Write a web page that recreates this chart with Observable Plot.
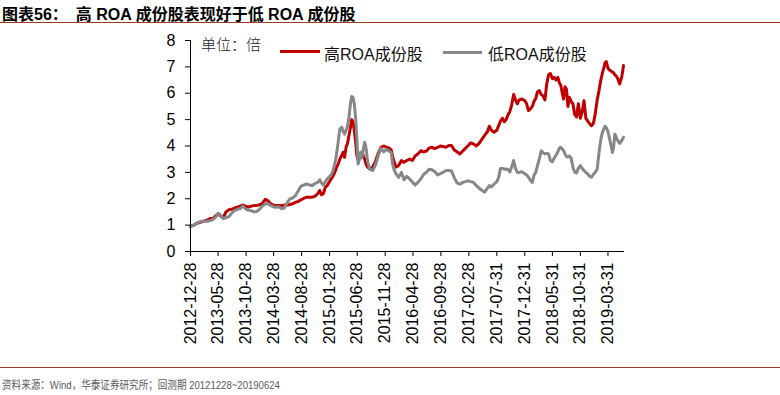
<!DOCTYPE html>
<html>
<head>
<meta charset="utf-8">
<script src="https://cdn.jsdelivr.net/npm/d3@7"></script>
<script src="https://cdn.jsdelivr.net/npm/@observablehq/plot@0.6"></script>
<style>
  html, body { margin: 0; padding: 0; background: #fff; }
  #wrap { position: relative; width: 780px; height: 395px; overflow: hidden; font-family: "Liberation Sans", Arial, "Noto Sans CJK SC", sans-serif; }
  #chart { position: absolute; left: 0; top: 0; }
  .title { position: absolute; left: 2px; top: 1px; font-size: 16px; font-weight: bold; color: #000; font-family: "Liberation Sans", Arial, "Noto Sans CJK SC", sans-serif; white-space: nowrap; }
  .hr { position: absolute; left: 0; width: 780px; height: 0; border-top: 1.5px solid #A0382C; }
  .foot { position: absolute; left: 2px; top: 376px; font-size: 11px; color: #595959; white-space: nowrap; font-family: "Liberation Sans Narrow", "Liberation Sans", "Noto Sans CJK SC", sans-serif; transform: scaleX(0.87); transform-origin: 0 0; }
  .unit { position: absolute; left: 201px; top: 33px; font-size: 15px; color: #222; font-family: "Noto Sans CJK SC", sans-serif; font-weight: 300; white-space: nowrap; }
  .leg { position: absolute; top: 41px; font-size: 16px; color: #111; white-space: nowrap; font-family: "Liberation Sans", Arial, "Noto Sans CJK SC", sans-serif; }
  .legline { position: absolute; height: 0; border-top: 3px solid; }
</style>
</head>
<body>
<div id="wrap">
  <div id="chart"></div>
  <div class="title">图表56：<span style="display:inline-block;width:8px"></span>高 ROA 成份股表现好于低 ROA 成份股</div>
  <div class="hr" style="top:21.5px"></div>
  <div class="unit">单位：倍</div>
  <div class="legline" style="left:280px;width:40px;top:49.5px;border-color:#C00000"></div>
  <div class="leg" style="left:324px">高ROA成份股</div>
  <div class="legline" style="left:443px;width:39px;top:50.5px;border-color:#878787"></div>
  <div class="leg" style="left:488px">低ROA成份股</div>
  <div class="hr" style="top:367px"></div>
  <div class="foot">资料来源：Wind，华泰证券研究所；回测期 20121228~20190624</div>
</div>
<script>
const dates = [
"2012-12-28","2013-01-15","2013-02-01","2013-02-15","2013-03-01","2013-03-15","2013-04-01","2013-04-15","2013-05-01","2013-05-15",
"2013-05-28","2013-06-10","2013-06-25","2013-07-10","2013-07-25","2013-08-10","2013-08-25","2013-09-10","2013-09-25","2013-10-10",
"2013-10-25","2013-11-10","2013-11-25","2013-12-10","2013-12-25","2014-01-10","2014-01-25","2014-02-10","2014-02-25","2014-03-10",
"2014-03-25","2014-04-10","2014-04-25","2014-05-10","2014-05-25","2014-06-10","2014-06-25","2014-07-10","2014-07-25","2014-08-10",
"2014-08-25","2014-09-10","2014-09-25","2014-10-10","2014-10-25","2014-11-10","2014-11-25","2014-12-05","2014-12-15","2014-12-25",
"2015-01-05","2015-01-15","2015-01-25","2015-02-05","2015-02-15","2015-02-25","2015-03-05","2015-03-15","2015-03-25","2015-04-05",
"2015-04-12","2015-04-20","2015-04-28","2015-05-06","2015-05-14","2015-05-22","2015-05-29","2015-06-05","2015-06-12","2015-06-19",
"2015-06-26","2015-07-03","2015-07-10","2015-07-17","2015-07-24","2015-07-31","2015-08-08","2015-08-16","2015-08-24","2015-09-05",
"2015-09-20","2015-10-05","2015-10-20","2015-11-05","2015-11-20","2015-12-05","2015-12-20","2015-12-31","2016-01-08","2016-01-16",
"2016-01-26","2016-02-10","2016-02-25","2016-03-10","2016-03-25","2016-04-10","2016-04-25","2016-05-10","2016-05-25","2016-06-10",
"2016-06-25","2016-07-10","2016-07-25","2016-08-10","2016-08-25","2016-09-10","2016-09-25","2016-10-10","2016-10-25","2016-11-10",
"2016-11-25","2016-12-10","2016-12-25","2017-01-10","2017-01-25","2017-02-10","2017-02-25","2017-03-10","2017-03-25","2017-04-10",
"2017-04-25","2017-05-10","2017-05-25","2017-06-10","2017-06-20","2017-07-01","2017-07-15","2017-07-31","2017-08-10","2017-08-20",
"2017-08-31","2017-09-10","2017-09-20","2017-10-01","2017-10-10","2017-10-20","2017-10-31","2017-11-10","2017-11-20","2017-11-30",
"2017-12-15","2017-12-31","2018-01-10","2018-01-20","2018-01-30","2018-02-10","2018-02-20","2018-03-01","2018-03-10","2018-03-20",
"2018-03-31","2018-04-10","2018-04-20","2018-04-30","2018-05-10","2018-05-20","2018-05-31","2018-06-10","2018-06-20","2018-06-30",
"2018-07-08","2018-07-16","2018-07-24","2018-07-31","2018-08-08","2018-08-16","2018-08-24","2018-08-31","2018-09-10","2018-09-20",
"2018-09-30","2018-10-10","2018-10-20","2018-10-31","2018-11-10","2018-11-20","2018-11-30","2018-12-10","2018-12-20","2018-12-31",
"2019-01-10","2019-01-20","2019-01-31","2019-02-10","2019-02-20","2019-02-28","2019-03-08","2019-03-15","2019-03-22","2019-03-31",
"2019-04-08","2019-04-16","2019-04-24","2019-04-30","2019-05-08","2019-05-16","2019-05-24","2019-06-03","2019-06-14","2019-06-24"
];
const highROA = [
0.95,1.00,1.07,1.10,1.13,1.16,1.20,1.25,1.25,1.35,
1.43,1.35,1.28,1.50,1.58,1.60,1.65,1.68,1.72,1.76,
1.72,1.68,1.72,1.74,1.74,1.78,1.82,1.98,1.92,1.82,
1.76,1.74,1.74,1.74,1.76,1.76,1.78,1.81,1.86,1.90,
1.96,2.02,2.06,2.06,2.06,2.10,2.20,2.31,2.15,2.20,
2.44,2.50,2.62,2.75,2.85,3.00,3.15,3.30,3.50,3.65,
3.76,3.57,3.95,4.10,4.40,4.70,5.00,4.92,4.60,4.20,
3.65,3.50,3.57,3.72,3.76,3.64,3.50,3.30,3.20,3.13,
3.20,3.40,3.70,3.95,4.00,3.96,3.92,3.85,3.60,3.40,
3.20,3.26,3.45,3.38,3.45,3.50,3.45,3.62,3.70,3.82,
3.78,3.80,3.92,3.95,3.90,3.95,4.00,3.98,3.95,4.02,
4.02,3.85,3.78,3.70,3.80,3.92,4.02,4.12,4.08,4.00,
4.10,4.25,4.40,4.55,4.75,4.60,4.52,4.60,4.77,4.95,
5.05,4.92,5.00,5.20,5.30,5.55,5.95,5.75,5.60,5.75,
5.78,5.72,5.60,5.34,5.40,5.50,5.70,5.80,6.05,6.10,
5.95,5.90,5.75,6.35,6.70,6.75,6.55,6.60,6.50,6.60,
6.40,6.30,6.00,5.78,6.25,6.15,5.50,5.85,5.70,5.60,
5.20,5.10,5.60,5.05,5.30,5.72,5.05,4.95,4.85,4.77,
4.85,5.20,5.75,6.10,6.50,6.75,6.95,7.15,7.20,6.95,
6.88,6.85,6.80,6.78,6.70,6.65,6.55,6.35,6.60,7.05
];
const lowROA = [
0.95,1.00,1.07,1.12,1.15,1.15,1.15,1.17,1.22,1.30,
1.45,1.38,1.25,1.28,1.32,1.45,1.55,1.60,1.62,1.72,
1.62,1.56,1.55,1.50,1.52,1.60,1.72,1.80,1.82,1.75,
1.70,1.68,1.70,1.62,1.65,1.85,2.00,2.03,2.12,2.30,
2.48,2.52,2.56,2.52,2.50,2.58,2.62,2.72,2.60,2.52,
2.65,2.75,2.82,2.90,3.05,3.30,3.60,4.10,4.65,4.71,
4.55,4.45,4.60,4.75,5.10,5.60,5.88,5.85,5.60,5.10,
4.30,3.32,3.50,3.76,3.55,3.85,4.14,3.90,3.40,3.12,
3.07,3.26,3.60,3.92,3.78,3.88,3.80,3.75,3.30,3.10,
2.95,2.81,3.00,2.72,2.85,2.75,2.63,2.52,2.62,2.75,
2.92,3.00,3.12,3.10,3.03,2.90,2.95,3.00,3.07,3.07,
3.05,2.80,2.60,2.55,2.62,2.65,2.68,2.65,2.62,2.50,
2.40,2.32,2.25,2.40,2.50,2.45,2.55,2.65,2.81,3.15,
3.15,3.12,3.13,3.10,3.02,3.20,3.45,3.15,3.00,3.00,
3.02,2.95,2.90,2.82,2.70,2.62,2.90,3.00,3.25,3.50,
3.82,3.75,3.70,3.72,3.70,3.45,3.40,3.55,3.65,3.78,
3.92,3.95,3.88,3.83,3.70,3.60,3.58,3.62,3.55,3.20,
3.00,2.98,3.15,3.26,3.15,3.07,3.00,2.94,2.85,2.82,
2.92,3.00,3.12,3.75,4.25,4.50,4.65,4.75,4.70,4.55,
4.30,4.05,3.75,3.90,4.45,4.30,4.20,4.10,4.20,4.33
];
const yTicks = [0,1,2,3,4,5,6,7,8];
const xTickLabels = ["2012-12-28","2013-05-28","2013-10-28","2014-03-28","2014-08-28","2015-01-28","2015-06-28","2015-11-28",
"2016-04-28","2016-09-28","2017-02-28","2017-07-31","2017-12-31","2018-05-31","2018-10-31","2019-03-31"];

const parse = d3.utcParse("%Y-%m-%d");
const fmt = d3.utcFormat("%Y-%m-%d");
const highData = dates.map((d, i) => ({date: parse(d), v: highROA[i]}));
const lowData = dates.map((d, i) => ({date: parse(d), v: lowROA[i]}));
const xTicks = xTickLabels.map(parse);

const chart = Plot.plot({
  width: 780,
  height: 395,
  marginLeft: 190,
  marginRight: 157,
  marginTop: 40,
  marginBottom: 144,
  style: {fontFamily: "'Liberation Sans', Arial, sans-serif", fontSize: "16px", color: "#000", background: "transparent"},
  x: {type: "utc", domain: [parse(dates[0]), parse(dates[dates.length - 1])]},
  y: {domain: [0, 8]},
  marks: [
    Plot.lineY(highData, {x: "date", y: "v", stroke: "#C00000", strokeWidth: 3, strokeLinejoin: "round"}),
    Plot.lineY(lowData, {x: "date", y: "v", stroke: "#878787", strokeWidth: 3, strokeLinejoin: "round"}),
    Plot.frame({anchor: "left", stroke: "#000"}),
    Plot.frame({anchor: "bottom", stroke: "#000"}),
    Plot.axisY({ticks: yTicks, tickSize: 5, tickPadding: 10, fontSize: 16, label: null, stroke: "#000"}),
    Plot.axisX({ticks: xTicks, tickFormat: fmt, tickRotate: -90, tickSize: 5, tickPadding: 6, fontSize: 16, label: null, stroke: "#000"})
  ]
});
document.getElementById("chart").appendChild(chart);
</script>
</body>
</html>
